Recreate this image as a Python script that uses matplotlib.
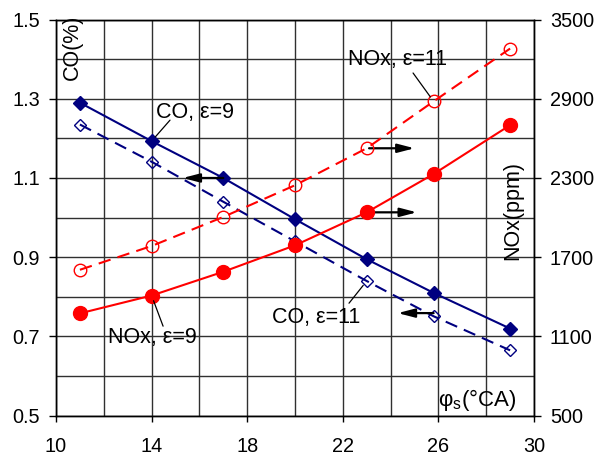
import matplotlib
matplotlib.use("Agg")
import matplotlib.pyplot as plt

plt.rcParams['font.family'] = ['Liberation Sans', 'DejaVu Sans']
plt.rcParams['mathtext.fontset'] = 'custom'
plt.rcParams['mathtext.rm'] = 'Liberation Sans'
plt.rcParams['mathtext.it'] = 'Liberation Sans:italic'

# ---- data ----
phi = [11, 14, 17, 20, 23, 25.8, 29]
co_e9 = [1.290, 1.193, 1.100, 0.996, 0.895, 0.810, 0.720]
co_e11 = [1.235, 1.141, 1.040, 0.940, 0.840, 0.751, 0.665]
nox_e9 = [1275, 1410, 1590, 1790, 2040, 2330, 2700]
nox_e11 = [1605, 1785, 2005, 2245, 2525, 2880, 3280]

x_ticks = [10, 14, 18, 22, 26, 30]
co_ticks = [0.5, 0.7, 0.9, 1.1, 1.3, 1.5]
nox_ticks = [500, 1100, 1700, 2300, 2900, 3500]

NAVY = '#000080'
RED = '#FF0000'
FS = 14.3
FT = 15.5

fig = plt.figure(figsize=(6.01, 4.59), dpi=100)
ax1 = fig.add_axes([0.0932, 0.0943, 0.7953, 0.8632])
ax2 = ax1.twinx()

ax1.set_xlim(10, 30)
ax1.set_ylim(0.5, 1.5)
ax2.set_ylim(500, 3500)

# grid
for gx in range(10, 31, 2):
    ax1.axvline(gx, color='#303030', lw=1.0, zorder=0)
for i in range(11):
    ax1.axhline(0.5 + 0.1 * i, color='#303030', lw=1.0, zorder=0)

ax1.set_xticks(x_ticks)
ax1.set_yticks(co_ticks)
ax1.set_yticklabels(['%.1f' % v for v in co_ticks])
ax2.set_yticks(nox_ticks)
ax1.tick_params(axis='x', direction='out', length=4.5, width=1, pad=11, labelsize=FS)
ax1.tick_params(axis='y', direction='out', length=5, width=1, pad=6.5, labelsize=FS)
ax2.tick_params(axis='y', direction='out', length=5, width=1, pad=6.5, labelsize=FS)
for ax in (ax1, ax2):
    for s in ax.spines.values():
        s.set_linewidth(1.0)
        s.set_color('black')

# CO series
ax1.plot(phi, co_e9, color=NAVY, lw=1.5, marker='D', ms=7, mfc=NAVY, mec=NAVY, zorder=3)
ax1.plot(phi, co_e11, color=NAVY, lw=1.5, ls=(0, (6, 3.5)), marker='D', ms=6.2,
         mfc='none', mec=NAVY, mew=1.0, zorder=3)

# NOx series
ax2.plot(phi, nox_e9, color=RED, lw=1.5, marker='o', ms=10, mfc=RED, mec=RED, zorder=3)
ax2.plot(phi, nox_e11, color=RED, lw=1.5, ls=(0, (6, 3.5)), marker='o', ms=9,
         mfc='none', mec=RED, mew=1.0, zorder=3)

# arrows
aprops = dict(arrowstyle='-|>,head_length=0.5,head_width=0.13', color='black',
              lw=1.6, shrinkA=0, shrinkB=0, mutation_scale=20)
ax2.annotate('', xy=(15.3, 1.100), xytext=(17.0, 1.100), xycoords=ax1.transData,
             textcoords=ax1.transData, arrowprops=aprops, zorder=2)
ax2.annotate('', xy=(24.3, 0.759), xytext=(25.8, 0.759), xycoords=ax1.transData,
             textcoords=ax1.transData, arrowprops=aprops, zorder=2)
ax2.annotate('', xy=(25.0, 2525), xytext=(23.1, 2525), arrowprops=aprops, zorder=2)
ax2.annotate('', xy=(25.1, 2040), xytext=(23.2, 2040), arrowprops=aprops, zorder=2)

# labels with leader lines
lprops = dict(arrowstyle='-', color='black', lw=0.9, shrinkA=0, shrinkB=4)
ax2.annotate('', xy=(14, 1.193), xytext=(14.77, 1.246), xycoords=ax1.transData,
             textcoords=ax1.transData, arrowprops=lprops)
ax2.text(15.82, 1.266, 'CO, ε=9', transform=ax1.transData, fontsize=FT,
         ha='center', va='center')
ax2.annotate('', xy=(25.8, 2880), xytext=(24.94, 1.365), textcoords=ax1.transData,
             arrowprops=lprops)
ax2.text(24.27, 1.400, 'NOx, ε=11', transform=ax1.transData, fontsize=FT,
         ha='center', va='center')
ax2.annotate('', xy=(14, 1410), xytext=(14.48, 0.726), textcoords=ax1.transData,
             arrowprops=lprops)
ax2.text(14.02, 0.698, 'NOx, ε=9', transform=ax1.transData, fontsize=FT,
         ha='center', va='center')
ax2.annotate('', xy=(23, 0.840), xytext=(22.26, 0.784), xycoords=ax1.transData,
             textcoords=ax1.transData, arrowprops=lprops)
ax2.text(20.88, 0.749, 'CO, ε=11', transform=ax1.transData, fontsize=FT,
         ha='center', va='center')

# axis titles inside
ax2.text(0.0335, 0.93, 'CO(%)', transform=ax1.transAxes, rotation=90,
         fontsize=FT, ha='center', va='center')
ax2.text(0.956, 0.519, 'NOx(ppm)', transform=ax1.transAxes, rotation=90,
         fontsize=FT, ha='center', va='center')
ax2.text(0.881, 0.04, 'φ$_\\mathrm{s}$(°CA)', transform=ax1.transAxes,
         fontsize=16, ha='center', va='center')

fig.savefig('out.png', dpi=100)
